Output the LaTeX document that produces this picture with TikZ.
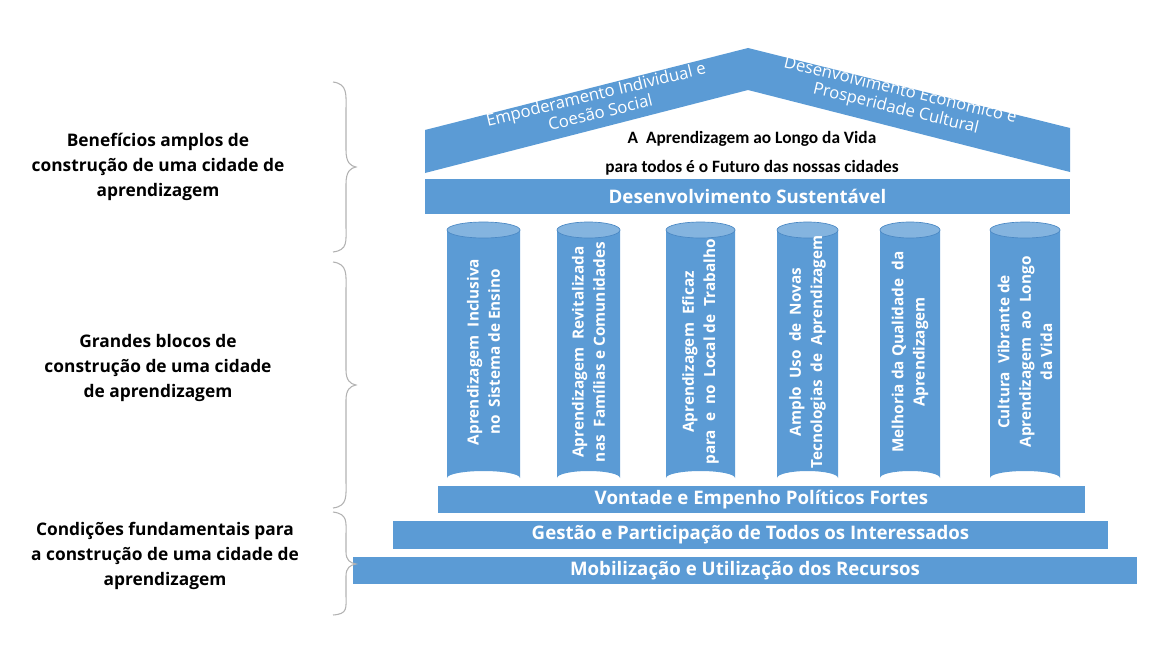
\documentclass[tikz,border=0pt]{standalone}
\usepackage{fontspec}
\setmainfont{Open Sans}
\newfontfamily\carfont{Carlito}
\begin{document}
\begin{tikzpicture}[x=0.75pt,y=-0.75pt,
  bl/.style={fill=blue1,draw=none},
  band/.style={bl,minimum height=#1,inner sep=0pt,text=white,font=\bfseries\fontsize{14}{16}\selectfont},
  col/.style={text=white,font=\bfseries\fontsize{11.5}{16}\selectfont,align=center,rotate=90},
  lab/.style={font=\bfseries\fontsize{13}{19}\selectfont,align=center},
  brc/.style={draw=gray!60,line width=0.8pt}]
\definecolor{blue1}{HTML}{5B9BD5}
\definecolor{blue2}{HTML}{4A88C4}
\useasboundingbox (0,0) rectangle (1162,649);
% roof
\fill[blue1] (425,130) -- (748,48) -- (1070,128) -- (1070,172) -- (748,90) -- (425,173) -- cycle;
\node[rotate=13.5,text=white,font=\fontsize{12.5}{14}\selectfont,align=center] (r1) at (598,103) {Empoderamento Individual e\\Coesão Social};
\node[rotate=-13.5,text=white,font=\fontsize{12.5}{14}\selectfont,align=center] (r2) at (898,100) {Desenvolvimento Económico e\\Prosperidade Cultural};
\node[font=\carfont\bfseries\fontsize{13}{22}\selectfont,align=center] (t) at (752,153) {A \ Aprendizagem ao Longo da Vida\\para todos é o Futuro das nossas cidades};
% bands
\node[band=26.25pt,minimum width=483.75pt] (ds) at (747.5,196) {Desenvolvimento Sustentável};
\node[band=20.25pt,minimum width=485.25pt] (v) at (761.5,499.5) {Vontade e Empenho Políticos Fortes};
\node[band=21pt,minimum width=536.25pt] (g) at (750.5,535) {Gestão e Participação de Todos os Interessados};
\node[band=20.25pt,minimum width=588pt] (m) at (745,570.5) {Mobilização e Utilização dos Recursos};
% columns
\foreach \a/\b/\txt [count=\i] in {447/520/{Aprendizagem \ Inclusiva\\no \ Sistema de Ensino},
  557/620/{Aprendizagem \ Revitalizada\\nas \ Famílias e Comunidades},
  666/735/{Aprendizagem \ Eficaz\\para \ e \ no \ Local de \ Trabalho},
  777/838/{Amplo \ Uso \ de \ Novas\\Tecnologias \ de \ Aprendizagem},
  880/940/{Melhoria da Qualidade \ da\\Aprendizagem},
  990/1060/{Cultura \ Vibrante de\\Aprendizagem \ ao \ Longo\\da Vida}}{
  \pgfmathsetmacro\c{(\a+\b)/2}\pgfmathsetmacro\r{(\b-\a)/2}
  \fill[blue1] (\a,230) -- (\a,478) arc[start angle=180,end angle=360,x radius=\r,y radius=7] -- (\b,230) -- cycle;
  \fill[blue1!75!white] (\c,230) ellipse[x radius=\r,y radius=8];
  \draw[blue2,line width=0.5pt] (\c,230) ellipse[x radius=\r,y radius=8];
  \node[col] (c\i) at (\c,352) {\txt};
}
% braces
\draw[brc] (333,82) .. controls (348,84) and (346,95) .. (346,110) -- (346,150) .. controls (346,162) and (350,166) .. (356,167)
  .. controls (350,168) and (346,172) .. (346,184) -- (346,225) .. controls (346,242) and (348,250) .. (333,252);
\draw[brc] (333,262) .. controls (348,264) and (346,275) .. (346,290) -- (346,370) .. controls (346,380) and (350,384) .. (356,385)
  .. controls (350,386) and (346,390) .. (346,400) -- (346,480) .. controls (346,496) and (348,506) .. (333,508);
\draw[brc] (333,512) .. controls (348,514) and (346,522) .. (346,535) -- (346,552) .. controls (346,560) and (350,563) .. (356,564)
  .. controls (350,565) and (346,568) .. (346,576) -- (346,595) .. controls (346,608) and (348,614) .. (333,615);
% labels
\node[lab] (l1) at (158,167) {Benefícios amplos de\\construção de uma cidade de\\aprendizagem};
\node[lab] (l2) at (158,368) {Grandes blocos de\\construção de uma cidade\\de aprendizagem};
\node[lab] (l3) at (165,556) {Condições fundamentais para\\a construção de uma cidade de\\aprendizagem};
\end{tikzpicture}
\end{document}
